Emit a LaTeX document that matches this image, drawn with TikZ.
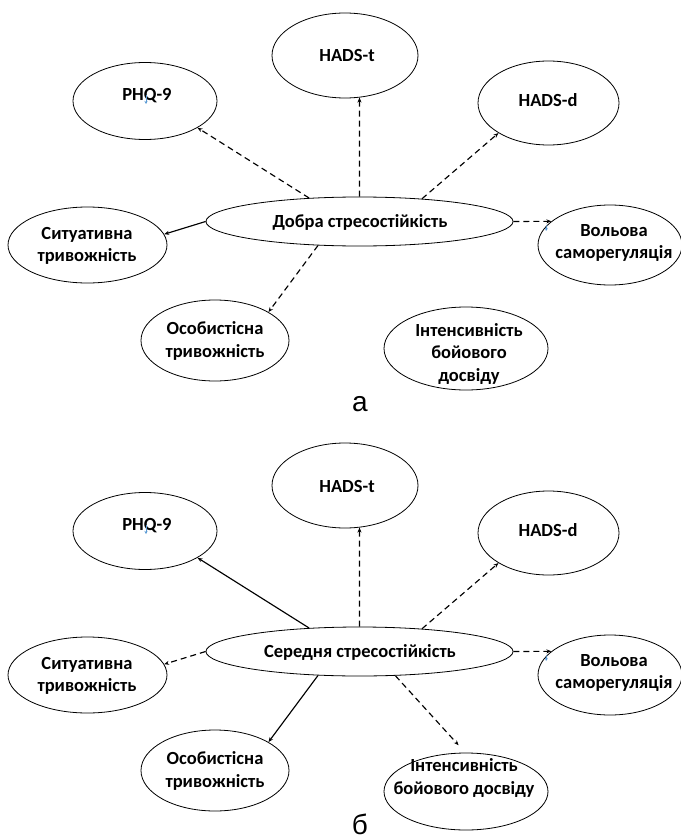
\documentclass[tikz,border=0pt]{standalone}
\usepackage{fontspec}
\setmainfont{Carlito}
\newfontfamily\lblfont{Liberation Sans}
\usetikzlibrary{shapes.geometric,arrows.meta}
\definecolor{markblue}{RGB}{91,155,213}
\tikzset{
  ell/.style={draw, ellipse, line width=0.8pt, inner sep=0pt},
  lbl/.style={font=\bfseries\fontsize{18.5}{22.5}\selectfont, align=center, inner sep=0pt},
  con/.style={line width=1.15pt, -{Stealth[length=5pt,width=4pt]}},
  dsh/.style={con, dash pattern=on 6pt off 4pt},
  capt/.style={font=\lblfont\fontsize{28}{30}\selectfont, anchor=base, inner sep=0pt},
  bmark/.style={color=markblue, line width=0.8pt, -{Stealth[length=3pt,width=3pt]}}
}
\begin{document}
\begin{tikzpicture}[x=1pt,y=-1pt]
\useasboundingbox (0,0) rectangle (680,840);
\fill[white] (0,0) rectangle (680,840);

% ---------- panel a ----------
\node[ell, minimum width=144pt, minimum height=77pt] (phqA) at (145,101) {};
\node[lbl] (phqAt) at (147,96) {PHQ-9};
\node[ell, minimum width=146pt, minimum height=85pt] (hadstA) at (345,55.5) {};
\node[lbl] (hadstAt) at (347,56) {HADS-t};
\node[ell, minimum width=141pt, minimum height=84pt] (hadsdA) at (548.5,103) {};
\node[lbl] (hadsdAt) at (548,100) {HADS-d};
\node[ell, minimum width=307pt, minimum height=49pt] (cA) at (359.5,221.5) {};
\node[lbl] (cAt) at (360,222) {Добра стресостійкість};
\node[ell, minimum width=159pt, minimum height=76pt] (sitA) at (87.5,245) {};
\node[lbl] (sitAt) at (87,246) {Ситуативна\\тривожність};
\node[ell, minimum width=144pt, minimum height=80pt] (volA) at (610,245) {};
\node[lbl] (volAt) at (614,243) {Вольова\\саморегуляція};
\node[ell, minimum width=148pt, minimum height=81pt] (osA) at (215,340.5) {};
\node[lbl] (osAt) at (215,341) {Особистісна\\тривожність};
\node[ell, minimum width=164pt, minimum height=83pt] (intA) at (466,348.5) {};
\node[lbl] (intAt) at (469,353.5) {Інтенсивність\\бойового\\досвіду};
\node[capt] (capA) at (360,411) {а};

\draw[dsh] (cA.155) -- (phqA.-27);
\draw[dsh] (cA.90) -- (hadstA.-71);
\draw[dsh] (cA.20) -- (hadsdA.211);
\draw[dsh] (cA.0) -- (volA.158);
\draw[con] (cA.180) -- (sitA.8);
\draw[dsh] (cA.210) -- (osA.28);

\draw[bmark] (146,95) -- (146,104);
\draw[bmark] (547,225) -- (546,231);

% ---------- panel b ----------
\node[ell, minimum width=144pt, minimum height=77pt] (phqB) at (145,531) {};
\node[lbl] (phqBt) at (147,526) {PHQ-9};
\node[ell, minimum width=146pt, minimum height=85pt] (hadstB) at (345,485.5) {};
\node[lbl] (hadstBt) at (347,486) {HADS-t};
\node[ell, minimum width=141pt, minimum height=84pt] (hadsdB) at (548.5,533) {};
\node[lbl] (hadsdBt) at (548,530) {HADS-d};
\node[ell, minimum width=307pt, minimum height=49pt] (cB) at (359.5,651.5) {};
\node[lbl] (cBt) at (360,652) {Середня стресостійкість};
\node[ell, minimum width=159pt, minimum height=76pt] (sitB) at (87.5,675) {};
\node[lbl] (sitBt) at (87,676) {Ситуативна\\тривожність};
\node[ell, minimum width=144pt, minimum height=80pt] (volB) at (610,675) {};
\node[lbl] (volBt) at (614,673) {Вольова\\саморегуляція};
\node[ell, minimum width=148pt, minimum height=81pt] (osB) at (215,770.5) {};
\node[lbl] (osBt) at (215,771) {Особистісна\\тривожність};
\node[ell, minimum width=164pt, minimum height=77pt] (intB) at (466,791.5) {};
\node[lbl] (intBt) at (464,778) {Інтенсивність\\бойового досвіду};
\node[capt] (capB) at (360,834) {б};

\draw[con] (cB.155) -- (phqB.-27);
\draw[dsh] (cB.90) -- (hadstB.-71);
\draw[dsh] (cB.20) -- (hadsdB.211);
\draw[dsh] (cB.0) -- (volB.158);
\draw[dsh] (cB.180) -- (sitB.8);
\draw[con] (cB.210) -- (osB.28);
\draw[dsh, shorten >=10pt] (cB.-34) -- (intB.91);

\draw[bmark] (146,525) -- (146,534);
\draw[bmark] (547,655) -- (546,661);
\end{tikzpicture}
\end{document}
